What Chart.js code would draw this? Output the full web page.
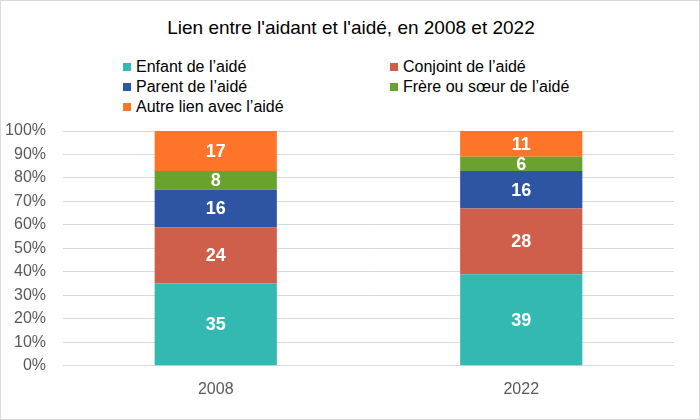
<!DOCTYPE html>
<html>
<head>
<meta charset="utf-8">
<script src="https://cdn.jsdelivr.net/npm/chart.js@4"></script>
<style>
  body { margin: 0; background: #fff; font-family: "Liberation Sans", Arial, sans-serif; }
  #wrap { position: relative; width: 700px; height: 420px; box-sizing: border-box; border: 1px solid #d9d9d9; }
  #title { position: absolute; top: 16px; left: 0; width: 700px; text-align: center; font-size: 19px; color: #000; }
  #legend { position: absolute; top: 56px; left: 122px; width: 560px; font-size: 16px; color: #000; }
  .item { position: absolute; white-space: nowrap; height: 20px; line-height: 20px; }
  .sw { display: inline-block; width: 8px; height: 8px; margin-right: 5px; vertical-align: 1px; }
  canvas { position: absolute; top: 0; left: 0; }
</style>
</head>
<body>
<div id="wrap">
  <div id="title">Lien entre l'aidant et l'aidé, en 2008 et 2022</div>
  <div id="legend"></div>
  <canvas id="chart" width="700" height="420"></canvas>
</div>
<script>
// données
const years = ['2008', '2022'];
const seriesNames = ['Enfant de l’aidé', 'Conjoint de l’aidé', 'Parent de l’aidé', 'Frère ou sœur de l’aidé', 'Autre lien avec l’aidé'];
const enfant = [35, 39];
const conjoint = [24, 28];
const parent = [16, 16];
const frere = [8, 6];
const autre = [17, 11];
const colors = ['#33b9b2', '#cf5f4a', '#2e55a3', '#69a22f', '#fe7429'];

const values = [enfant, conjoint, parent, frere, autre];

// légende en deux colonnes
const legend = document.getElementById('legend');
seriesNames.forEach((name, i) => {
    const el = document.createElement('div');
    el.className = 'item';
    el.style.left = (i % 2 === 0 ? 0 : 267) + 'px';
    el.style.top = (Math.floor(i / 2) * 20) + 'px';
    el.innerHTML = '<span class="sw" style="background:' + colors[i] + '"></span>' + name;
    legend.appendChild(el);
});

// étiquettes de valeurs dans les barres
const valueLabels = {
    id: 'valueLabels',
    afterDatasetsDraw(chart) {
        const ctx = chart.ctx;
        ctx.save();
        ctx.font = 'bold 18px "Liberation Sans", Arial, sans-serif';
        ctx.fillStyle = '#fff';
        ctx.textAlign = 'center';
        ctx.textBaseline = 'middle';
        chart.data.datasets.forEach((ds, i) => {
            chart.getDatasetMeta(i).data.forEach((bar, j) => {
                const mid = (bar.y + bar.base) / 2;
                ctx.fillText(ds.data[j], bar.x, mid + 1);
            });
        });
        ctx.restore();
    }
};

new Chart(document.getElementById('chart'), {
    type: 'bar',
    data: {
        labels: years,
        datasets: seriesNames.map((name, i) => ({
            label: name,
            data: values[i],
            backgroundColor: colors[i],
            barPercentage: 0.4,
            categoryPercentage: 1
        }))
    },
    options: {
        responsive: false,
        animation: false,
        layout: { padding: { top: 130, left: 4, right: 27, bottom: 16 } },
        plugins: { legend: { display: false }, title: { display: false }, tooltip: { enabled: false } },
        scales: {
            x: {
                stacked: true,
                grid: { display: false },
                border: { display: false },
                ticks: { color: '#595959', font: { size: 16, family: '"Liberation Sans", Arial' }, padding: 6 }
            },
            y: {
                stacked: true,
                min: 0,
                max: 100,
                afterFit: scale => { scale.width = 58; },
                grid: { color: '#d9d9d9', drawTicks: false },
                border: { display: false },
                ticks: {
                    stepSize: 10,
                    color: '#595959',
                    font: { size: 16, family: '"Liberation Sans", Arial' },
                    padding: 17,
                    callback: v => v + '%'
                }
            }
        }
    },
    plugins: [valueLabels]
});
</script>
</body>
</html>
